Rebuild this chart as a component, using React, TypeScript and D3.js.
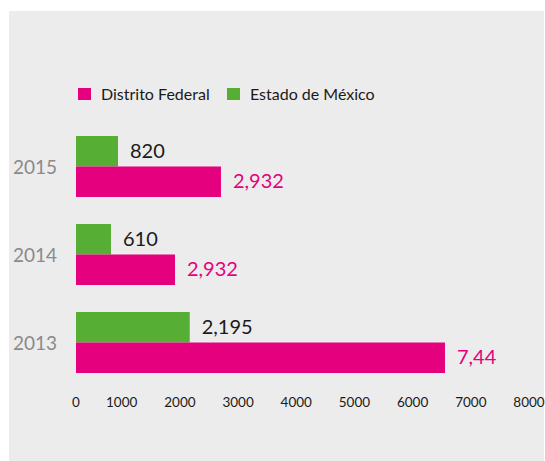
import React from "react";
import * as d3 from "d3";

const years = ["2015", "2014", "2013"];
const distritoFederal = [2706, 1916, 6556];
const estadoMexico = [919, 766, 2169];
const distritoLabels = ["2,932", "2,932", "7,44"];
const estadoLabels = ["820", "610", "2,195"];
const tickValues = [0, 1000, 2000, 3000, 4000, 5000, 6000, 7000, 8000];
const seriesNames = ["Estado de México", "Distrito Federal"];
const legendNames = ["Distrito Federal", "Estado de México"];

const PINK = "#e5007d";
const GREEN = "#56ae35";
const FONT = "Lato, 'Open Sans', sans-serif";

export default function App() {
  const W = 545;
  const H = 461;

  const x = d3.scaleLinear().domain([0, 1000, 8000]).range([76, 121.7, 529]);
  const y = d3.scaleBand<string>().domain(years).range([136, 373]).paddingInner(0.307).paddingOuter(0);
  const sub = d3.scaleBand<string>().domain(seriesNames).range([0, y.bandwidth()]).padding(0);

  const color = d3.scaleOrdinal<string, string>().domain(seriesNames).range([GREEN, PINK]);

  const rows = years.map((yr, i) => ({
    year: yr,
    bars: [
      { name: "Estado de México", value: estadoMexico[i], label: estadoLabels[i], labelColor: "#1a1a1a" },
      { name: "Distrito Federal", value: distritoFederal[i], label: distritoLabels[i], labelColor: PINK },
    ],
  }));

  const legendColor = d3.scaleOrdinal<string, string>().domain(legendNames).range([PINK, GREEN]);
  const legendX = [78, 227];

  return (
    <svg width={W} height={H} style={{ position: "absolute", left: 0, top: 0 }} fontFamily={FONT}>
      <rect x={0} y={0} width={W} height={H} fill="#ffffff" />
      <rect x={9} y={11} width={535} height={450} fill="#ececec" />

      {legendNames.map((n, i) => (
        <g key={n} transform={`translate(${legendX[i]},88)`}>
          <rect x={0} y={0} width={13} height={12} fill={legendColor(n)} />
          <text x={23} y={12} fontSize={16} fill="#1a1a1a">
            {n}
          </text>
        </g>
      ))}

      {rows.map((r) => (
        <g key={r.year} transform={`translate(0,${y(r.year)})`}>
          <text x={35} y={y.bandwidth() / 2 + 8} fontSize={19} fill="#8a8a8a" textAnchor="middle">
            {r.year}
          </text>
          {r.bars.map((b) => (
            <g key={b.name}>
              <rect
                x={x(0)}
                y={sub(b.name)}
                width={x(b.value) - x(0)}
                height={sub.bandwidth()}
                fill={color(b.name)}
              />
              <text
                x={x(b.value) + 12}
                y={(sub(b.name) as number) + sub.bandwidth() / 2 + 6.5}
                fontSize={20}
                fill={b.labelColor}
              >
                {b.label}
              </text>
            </g>
          ))}
        </g>
      ))}

      {tickValues.map((t) => (
        <text key={t} x={x(t)} y={407} fontSize={13.5} fill="#1a1a1a" textAnchor="middle">
          {t}
        </text>
      ))}
    </svg>
  );
}
